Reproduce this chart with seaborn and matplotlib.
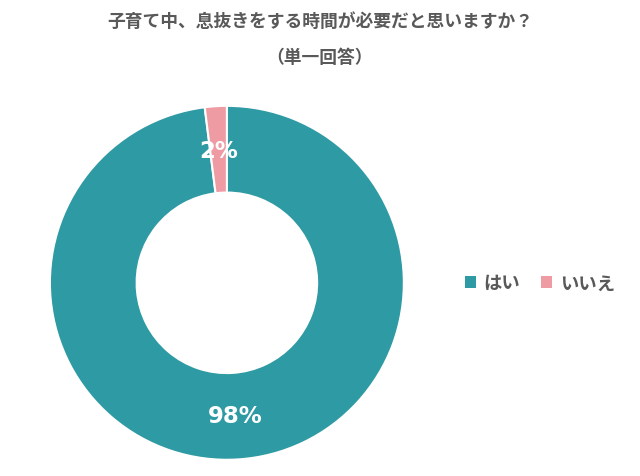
import matplotlib
matplotlib.use("Agg")
import matplotlib.pyplot as plt
import seaborn as sns
from matplotlib.patches import Patch

# データ
labels = ["はい", "いいえ"]
values = [98, 2]
colors = ["#2E9AA3", "#EF9BA4"]
title_1 = "子育て中、息抜きをする時間が必要だと思いますか？"
title_2 = "（単一回答）"

sns.set_theme(style="white")
plt.rcParams['font.family'] = ['Noto Sans CJK JP', 'DejaVu Sans']
palette = sns.color_palette(colors)

fig = plt.figure(figsize=(6.4, 4.77), dpi=100)
ax = fig.add_axes([0.078, 0.034, 0.553, 0.742])

wedges, texts, autotexts = ax.pie(
    values,
    colors=palette,
    startangle=90,
    counterclock=False,
    radius=1.0,
    autopct=lambda p: f"{p:.0f}%",
    pctdistance=0.75,
    wedgeprops={'width': 0.49, 'edgecolor': 'white', 'linewidth': 1.5},
)
for t in autotexts:
    t.set_color("white")
    t.set_fontsize(16.5)
    t.set_fontweight("bold")
    t.set_family(['DejaVu Sans'])
ax.set_xlim(-1, 1)
ax.set_ylim(-1, 1)
ax.set_aspect('equal')

fig.text(0.5, 0.953, title_1, ha='center', va='center', fontsize=12.8,
         fontweight='bold', color='#595959')
fig.text(0.5, 0.878, title_2, ha='center', va='center', fontsize=12.8,
         fontweight='bold', color='#595959')

handles = [Patch(facecolor=c, edgecolor='none') for c in palette]
fig.legend(handles, labels, loc='center left', bbox_to_anchor=(0.70, 0.405),
           ncol=2, frameon=False, handlelength=0.6, handleheight=0.6,
           handletextpad=0.45, columnspacing=1.1,
           prop={'size': 13.2, 'weight': 'bold'}, labelcolor='#595959')

fig.savefig("out.png", dpi=100)
